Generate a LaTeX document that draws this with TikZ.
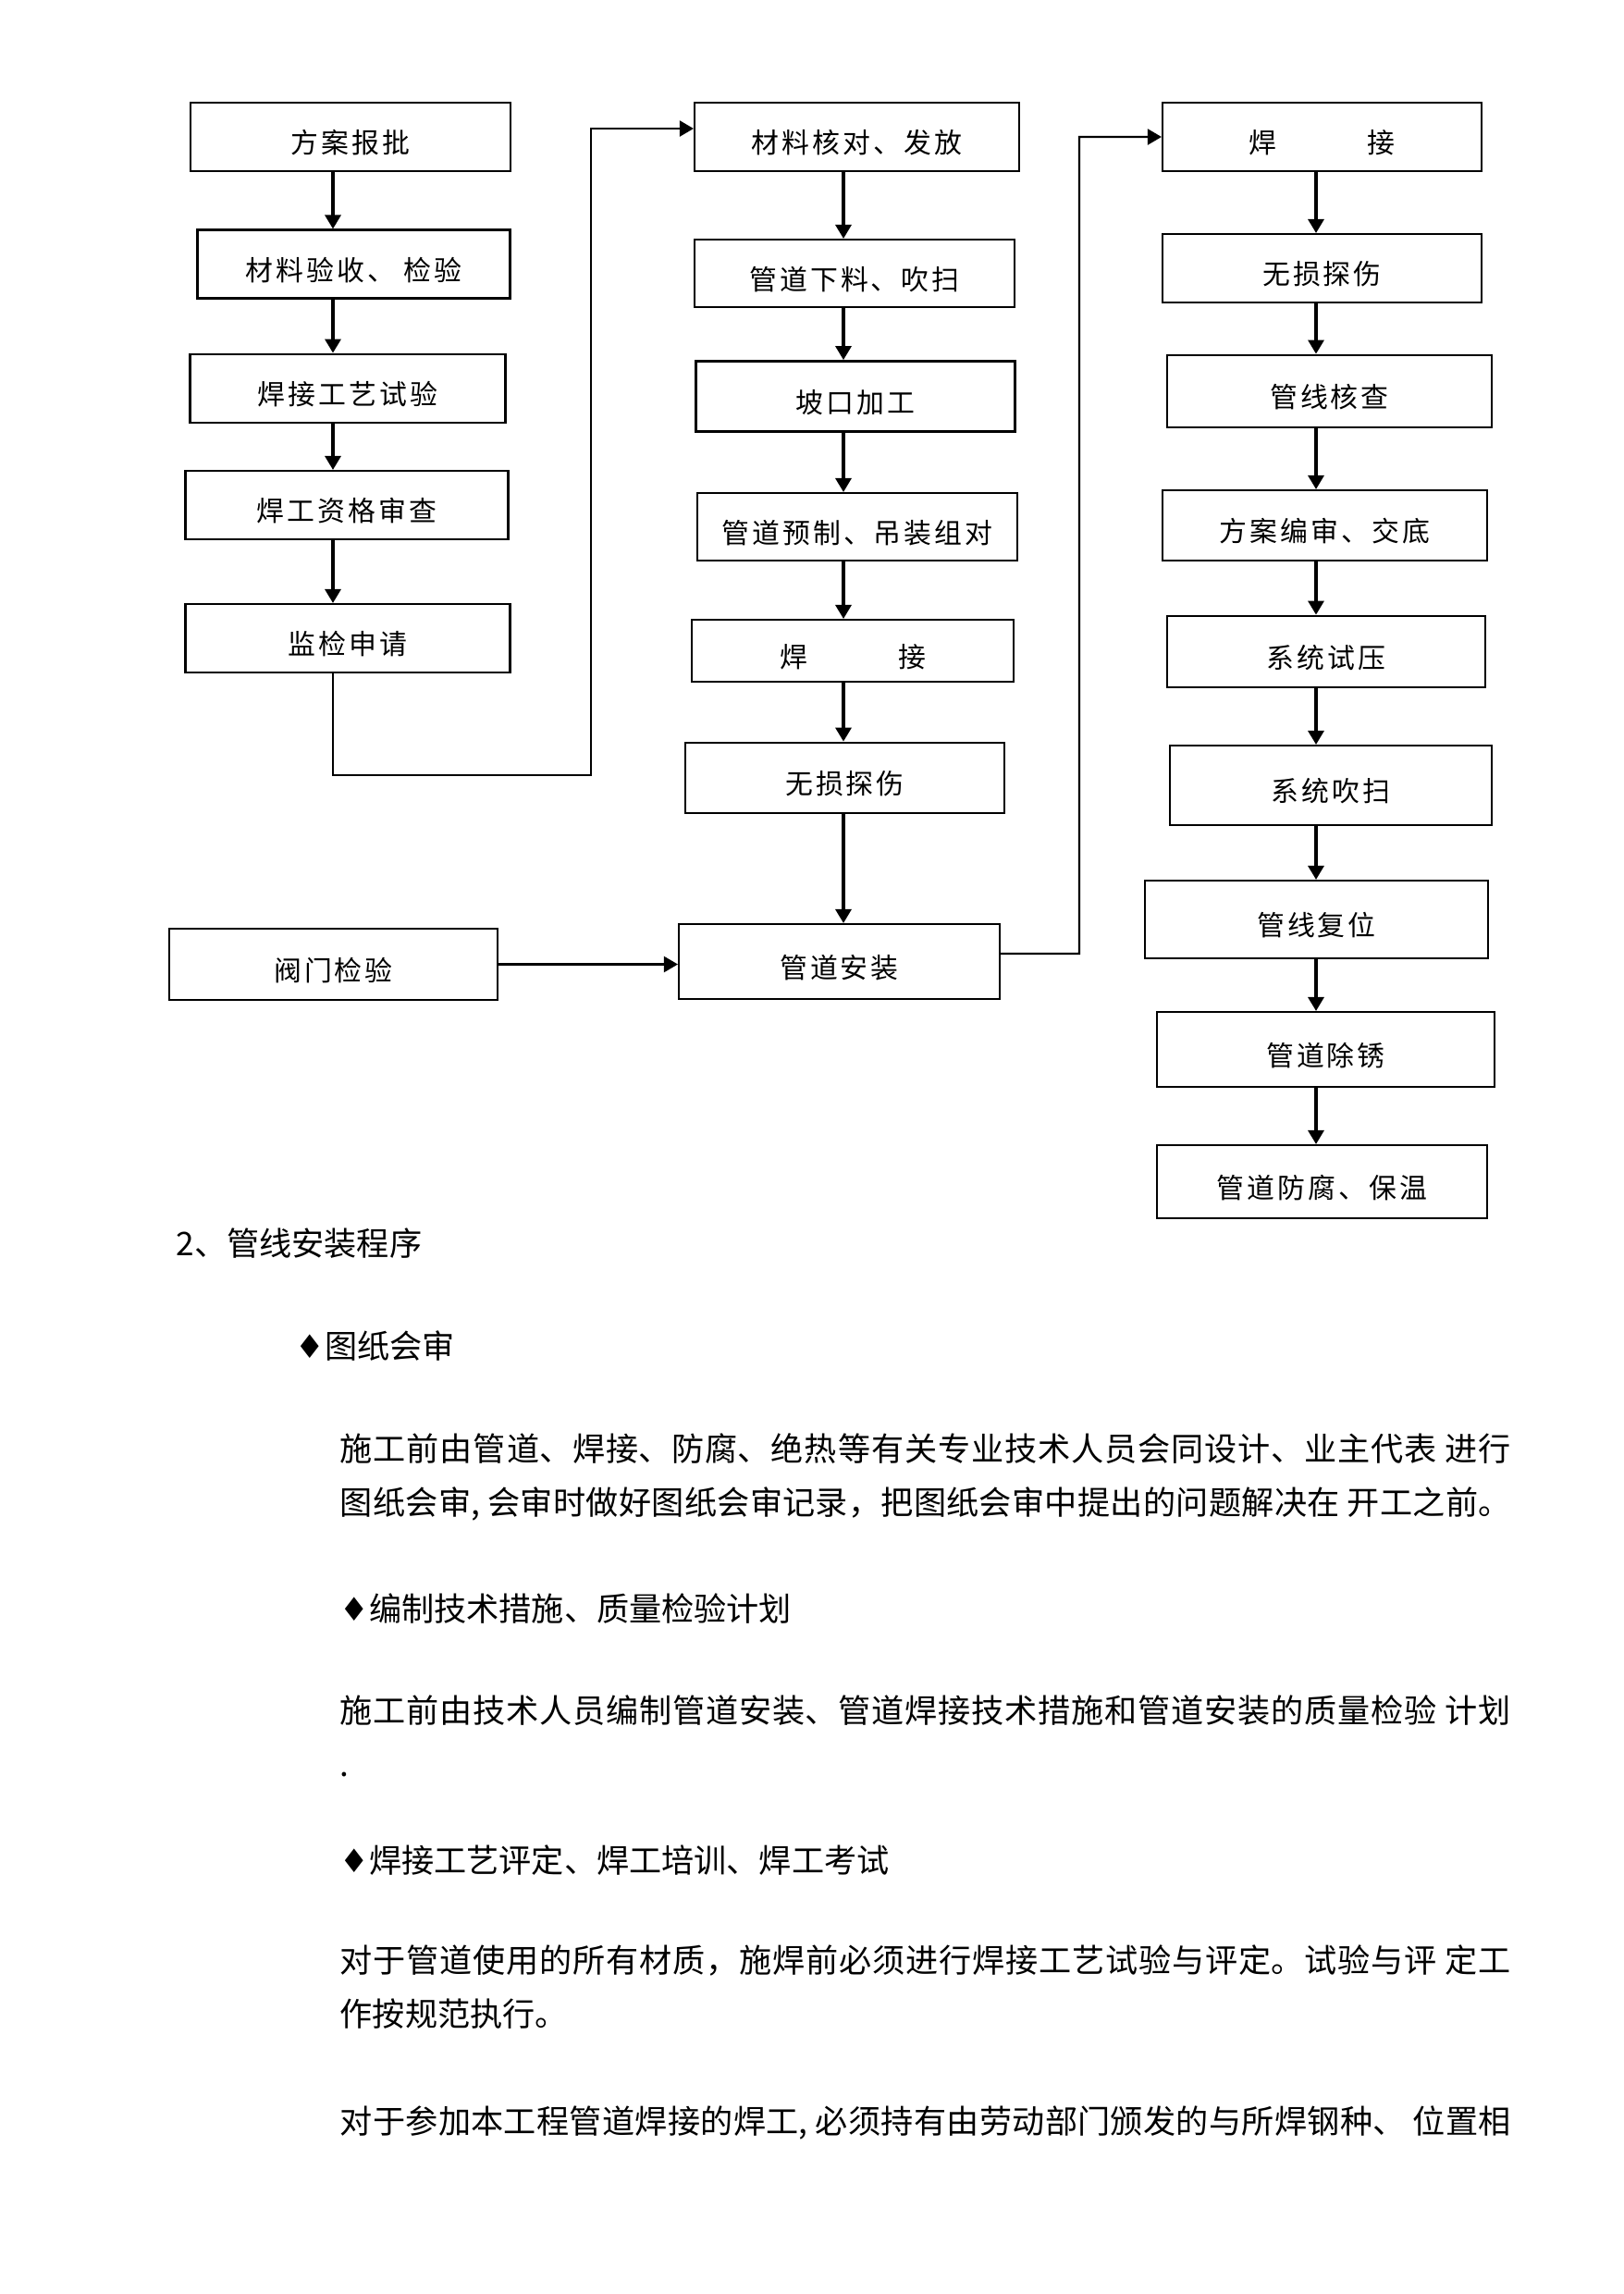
\documentclass[tikz,border=0pt]{standalone}
\usepackage{fontspec}
\setmainfont{Noto Sans CJK SC}
\newfontfamily\boxfont[LetterSpace=10]{Noto Sans CJK SC}
\newfontfamily\dingfont{DejaVu Sans}
\XeTeXlinebreaklocale "zh"
\XeTeXlinebreakskip=0pt plus 1pt
\usepackage{tikz}
\usetikzlibrary{arrows.meta,positioning}
\newcommand{\weldgap}{\hspace{9.8mm}}
\newcommand{\dmd}{{\dingfont ♦}}
\tikzset{
  box/.style={draw,line width=0.6pt,minimum height=7.4mm,inner sep=0pt,
              text height=3.8mm,text depth=0.3mm,
              font=\boxfont\fontsize{8.5}{10}\selectfont},
  heavybox/.style={box,line width=0.8pt},
  flow/.style={-{Triangle[length=1.5mm,width=1.7mm]},line width=0.9pt},
  link/.style={-{Triangle[length=1.5mm,width=1.7mm]},line width=0.6pt},
  body/.style={font=\fontsize{10}{16.6}\selectfont,inner sep=0pt},
  para/.style={body,text width=126.6mm,align=justify,anchor=north west}
}

\begin{document}
\begin{tikzpicture}[x=1mm,y=-1mm]
  \path[fill=white,use as bounding box] (0,0) rectangle (175.5,248);

  % left column
  \node[box,minimum width=34.6mm] (plan) at (37.9,14.8) {方案报批};
  \node[box,minimum width=33.8mm] (matacc) at (38.25,28.55) {材料验收、 检验};
  \node[heavybox,minimum width=34.1mm] (wpt) at (37.6,42.0) {焊接工艺试验};
  \node[box,minimum width=34.9mm] (welderq) at (37.5,54.6) {焊工资格审查};
  \node[box,minimum width=35.1mm] (inspreq) at (37.6,69.0) {监检申请};
  \node[box,minimum width=35.5mm,minimum height=7.7mm] (valve) at (36.05,104.25) {阀门检验};

  % middle column
  \node[box,minimum width=35.1mm] (matiss) at (92.65,14.8) {材料核对、发放};
  \node[box,minimum width=34.6mm,minimum height=7.3mm] (cutblow) at (92.4,29.55) {管道下料、吹扫};
  \node[heavybox,minimum width=34.5mm,minimum height=7.6mm] (bevel) at (92.5,42.85) {坡口加工};
  \node[box,minimum width=34.6mm,minimum height=7.3mm] (prefab) at (92.7,56.95) {管道预制、吊装组对};
  \node[box,minimum width=34.8mm,minimum height=6.7mm] (weldA) at (92.2,70.35) {焊\weldgap 接};
  \node[heavybox,minimum width=34.5mm,minimum height=7.6mm] (ndtA) at (91.35,84.1) {无损探伤};
  \node[box,minimum width=34.7mm,minimum height=8.1mm] (install) at (90.75,103.95) {管道安装};

  % right column
  \node[box,minimum width=34.5mm] (weldB) at (142.95,14.8) {焊\weldgap 接};
  \node[box,minimum width=34.5mm] (ndtB) at (142.95,29.0) {无损探伤};
  \node[heavybox,minimum width=35.1mm,minimum height=7.8mm] (linechk) at (143.75,42.3) {管线核查};
  \node[box,minimum width=35.1mm,minimum height=7.6mm] (schemerev) at (143.25,56.8) {方案编审、交底};
  \node[heavybox,minimum width=34.4mm,minimum height=7.7mm] (prtest) at (143.4,70.45) {系统试压};
  \node[box,minimum width=34.8mm,minimum height=8.6mm] (blowing) at (143.9,84.9) {系统吹扫};
  \node[box,minimum width=37.1mm,minimum height=8.4mm] (restore) at (142.35,99.4) {管线复位};
  \node[box,minimum width=36.5mm,minimum height=8.1mm] (derust) at (143.35,113.45) {管道除锈};
  \node[box,minimum width=35.7mm,minimum height=7.9mm] (anticorr) at (142.95,127.75) {管道防腐、保温};

  \coordinate (axA) at (36.0,0);
  \coordinate (axB) at (91.2,0);
  \coordinate (axC) at (142.3,0);
  \coordinate (turnA) at (63.9,83.8);
  \coordinate (turnB) at (116.7,103.1);

  \draw[flow] (plan.south -| axA) -- (matacc.north -| axA);
  \draw[flow] (matacc.south -| axA) -- (wpt.north -| axA);
  \draw[flow] (wpt.south -| axA) -- (welderq.north -| axA);
  \draw[flow] (welderq.south -| axA) -- (inspreq.north -| axA);
  \draw[link] (inspreq.south -| axA) |- (turnA) |- ([yshift=0.9mm]matiss.west);

  \draw[flow] (matiss.south -| axB) -- (cutblow.north -| axB);
  \draw[flow] (cutblow.south -| axB) -- (bevel.north -| axB);
  \draw[flow] (bevel.south -| axB) -- (prefab.north -| axB);
  \draw[flow] (prefab.south -| axB) -- (weldA.north -| axB);
  \draw[flow] (weldA.south -| axB) -- (ndtA.north -| axB);
  \draw[flow] (ndtA.south -| axB) -- (install.north -| axB);
  \draw[link] (valve.east) -- (valve.east -| install.west);
  \draw[link] ([yshift=0.85mm]install.east) -- (turnB) |- (weldB.west);

  \draw[flow] (weldB.south -| axC) -- (ndtB.north -| axC);
  \draw[flow] (ndtB.south -| axC) -- (linechk.north -| axC);
  \draw[flow] (linechk.south -| axC) -- (schemerev.north -| axC);
  \draw[flow] (schemerev.south -| axC) -- (prtest.north -| axC);
  \draw[flow] (prtest.south -| axC) -- (blowing.north -| axC);
  \draw[flow] (blowing.south -| axC) -- (restore.north -| axC);
  \draw[flow] (restore.south -| axC) -- (derust.north -| axC);
  \draw[flow] (derust.south -| axC) -- (anticorr.north -| axC);

  % text below the chart
  \node[body,anchor=west] (sec2) at (19.0,134.4) {2、管线安装程序};
  \node[body,anchor=west] (bul1) at (31.9,145.5) {\dmd 图纸会审};
  \node[para] (par1) at (36.7,154.9) {施工前由管道、焊接、防腐、绝热等有关专业技术人员会同设计、业主代表 进行\linebreak
    图纸会审, 会审时做好图纸会审记录，把图纸会审中提出的问题解决在 开工之前。\linebreak};
  \node[body,anchor=west] (bul2) at (36.7,173.9) {\dmd 编制技术措施、质量检验计划};
  \node[para] (par2) at (36.7,183.2) {施工前由技术人员编制管道安装、管道焊接技术措施和管道安装的质量检验 计划\linebreak
    .};
  \node[body,anchor=west] (bul3) at (36.7,201.1) {\dmd 焊接工艺评定、焊工培训、焊工考试};
  \node[para] (par3) at (36.7,210.2) {对于管道使用的所有材质，施焊前必须进行焊接工艺试验与评定。试验与评 定工\linebreak
    作按规范执行。};
  \node[para] (par4) at (36.7,227.6) {对于参加本工程管道焊接的焊工, 必须持有由劳动部门颁发的与所焊钢种、 位置相\linebreak};
\end{tikzpicture}
\end{document}
